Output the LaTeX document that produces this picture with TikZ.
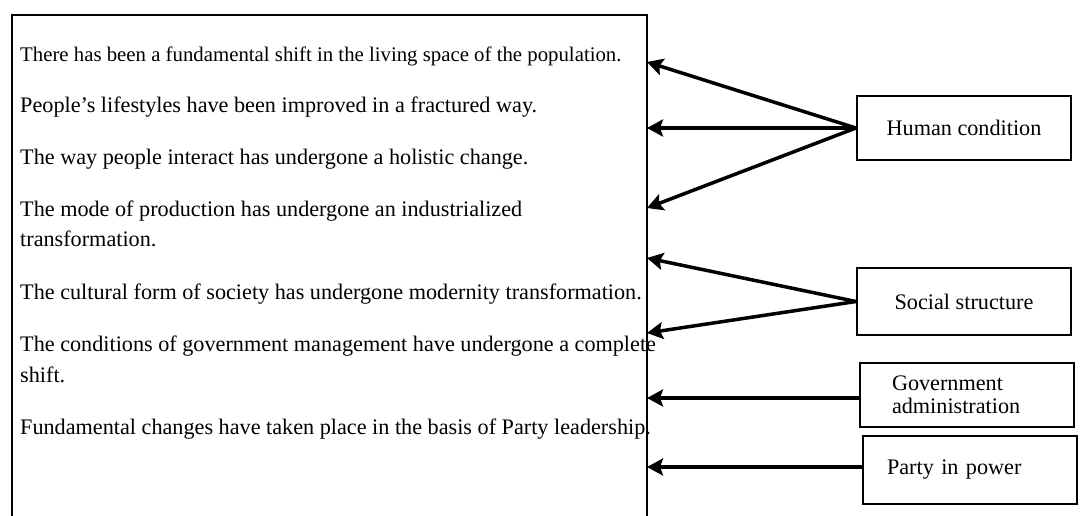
\documentclass[tikz,border=0pt]{standalone}
\usepackage{fontspec}
\setmainfont{Liberation Serif}
\usetikzlibrary{arrows.meta}
\newcommand{\stmtfont}{\fontsize{22.2}{31}\selectfont}
\newcommand{\labfont}{\fontsize{22.2}{23}\selectfont}
\tikzset{
  stmt/.style={anchor=base west, inner sep=0pt, font=\stmtfont},
  factor/.style={draw, line width=2.2pt, minimum width=214pt, minimum height=64pt, inner sep=0pt, font=\labfont},
  link/.style={line width=3.5pt, -{Stealth[length=16pt,width=17pt,inset=3pt]}}
}

\begin{document}
\begin{tikzpicture}[x=1pt,y=-1pt]
  \useasboundingbox (0,0) rectangle (1088,516);
  \draw[line width=2.3pt] (12,516) -- (12,15) -- (647,15) -- (647,516);
  \node[stmt, font=\fontsize{20.8}{31}\selectfont] (living) at (20,62) {There has been a fundamental shift in the living space of the population.};
  \node[stmt] (life) at (20,113) {People’s lifestyles have been improved in a fractured way.};
  \node[stmt] (interact) at (20,165) {The way people interact has undergone a holistic change.};
  \node[stmt] (mode) at (20,216) {The mode of production has undergone an industrialized};
  \node[stmt] (mode2) at (20,247) {transformation.};
  \node[stmt] (culture) at (20,299) {The cultural form of society has undergone modernity transformation.};
  \node[stmt] (govcond) at (20,351) {The conditions of government management have undergone a complete};
  \node[stmt] (govcond2) at (20,382) {shift.};
  \node[stmt] (basis) at (20,434) {Fundamental changes have taken place in the basis of Party leadership.};
  \foreach \n/\y in {1/62,2/128,3/208,4/258,5/333,6/398,7/467}
    \coordinate (a\n) at (647,\y);
  \node[factor] (human) at (964,128) {Human condition};
  \node[factor, minimum height=67pt] (social) at (964,301.5) {Social structure};
  \node[factor, text width=150pt, inner xsep=31pt, align=left] (gov) at (967,395) {Government\\administration};
  \node[factor, text width=166pt, inner xsep=24pt, minimum height=68pt, align=left] (party) at (970,470) {Party in power};
  \foreach \t in {1,2,3}
    \draw[link] (human.west) -- (a\t);
  \foreach \t in {4,5}
    \draw[link] (social.west) -- (a\t);
  \draw[link] (gov.west |- a6) -- (a6);
  \draw[link] (party.west |- a7) -- (a7);
\end{tikzpicture}
\end{document}
